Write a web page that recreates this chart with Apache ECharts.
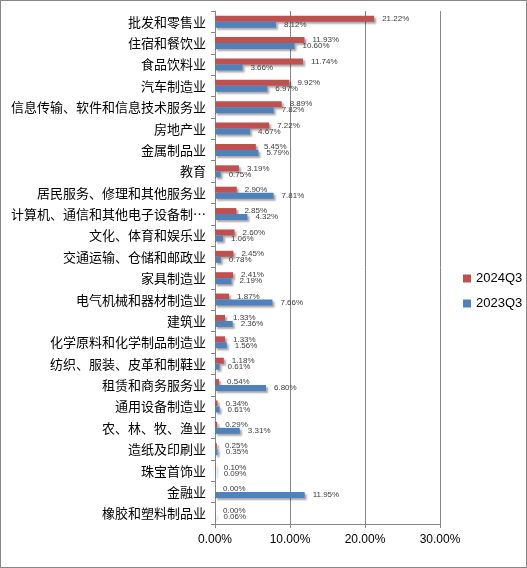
<!DOCTYPE html>
<html>
<head>
<meta charset="utf-8">
<script src="https://cdn.jsdelivr.net/npm/echarts@6/dist/echarts.min.js"></script>
<style>
html,body{margin:0;padding:0;background:#fff;}
#c{width:527px;height:568px;box-sizing:border-box;border:1px solid #878787;}
</style>
</head>
<body>
<div id="c"></div>
<script>
var categories = ['批发和零售业','住宿和餐饮业','食品饮料业','汽车制造业','信息传输、软件和信息技术服务业','房地产业','金属制品业','教育','居民服务、修理和其他服务业','计算机、通信和其他电子设备制造业','文化、体育和娱乐业','交通运输、仓储和邮政业','家具制造业','电气机械和器材制造业','建筑业','化学原料和化学制品制造业','纺织、服装、皮革和制鞋业','租赁和商务服务业','通用设备制造业','农、林、牧、渔业','造纸及印刷业','珠宝首饰业','金融业','橡胶和塑料制品业'];
var values2024Q3 = [21.22,11.93,11.74,9.92,8.89,7.22,5.45,3.19,2.90,2.85,2.60,2.45,2.41,1.87,1.33,1.33,1.18,0.54,0.34,0.29,0.25,0.10,0.00,0.00];
var values2023Q3 = [8.12,10.60,3.66,6.97,7.82,4.67,5.79,0.75,7.81,4.32,1.06,0.78,2.19,7.66,2.36,1.56,0.61,6.80,0.61,3.31,0.35,0.09,11.95,0.06];
var xTicks = [0,10,20,30];

var chart = echarts.init(document.getElementById('c'), null, {renderer:'canvas'});
function lbl(){
  return {show:true, position:'right', distance:8, fontSize:8, color:'#404040',
    fontFamily:'Liberation Sans', formatter:function(p){return p.value.toFixed(2)+'%';}};
}
var shadow = {shadowColor:'rgba(0,0,0,0.35)', shadowBlur:2, shadowOffsetX:2, shadowOffsetY:2};
chart.setOption({
  animation:false,
  grid:{left:214, right:86, top:10, bottom:43},
  legend:{orient:'vertical', left:457, top:266, itemWidth:8, itemHeight:8, itemGap:12,
    icon:'rect', textStyle:{fontSize:13, color:'#000', fontFamily:'Liberation Sans'},
    data:['2024Q3','2023Q3']},
  xAxis:{type:'value', min:xTicks[0], max:xTicks[xTicks.length-1], interval:10,
    axisLine:{show:true, lineStyle:{color:'#868686'}},
    axisTick:{show:true, length:4, lineStyle:{color:'#868686'}},
    splitLine:{show:true, lineStyle:{color:'#868686'}},
    axisLabel:{fontSize:12, color:'#000', margin:10, fontFamily:'Liberation Sans',
      formatter:function(v){return v.toFixed(2)+'%';}}},
  yAxis:{type:'category', inverse:true, data:categories,
    axisLine:{show:true, lineStyle:{color:'#868686'}},
    axisTick:{show:true, length:4, lineStyle:{color:'#868686'}},
    axisLabel:{fontSize:13, color:'#000', margin:9, fontFamily:'Noto Sans CJK SC',
      width:198, overflow:'truncate', ellipsis:'…'}},
  series:[
    {name:'2024Q3', type:'bar', data:values2024Q3, barWidth:6, barGap:'0%',
      itemStyle:Object.assign({color:'#C0504D'}, shadow), label:lbl()},
    {name:'2023Q3', type:'bar', data:values2023Q3, barWidth:6, barGap:'0%',
      itemStyle:Object.assign({color:'#4F81BD'}, shadow), label:lbl()}
  ]
});
</script>
</body>
</html>
